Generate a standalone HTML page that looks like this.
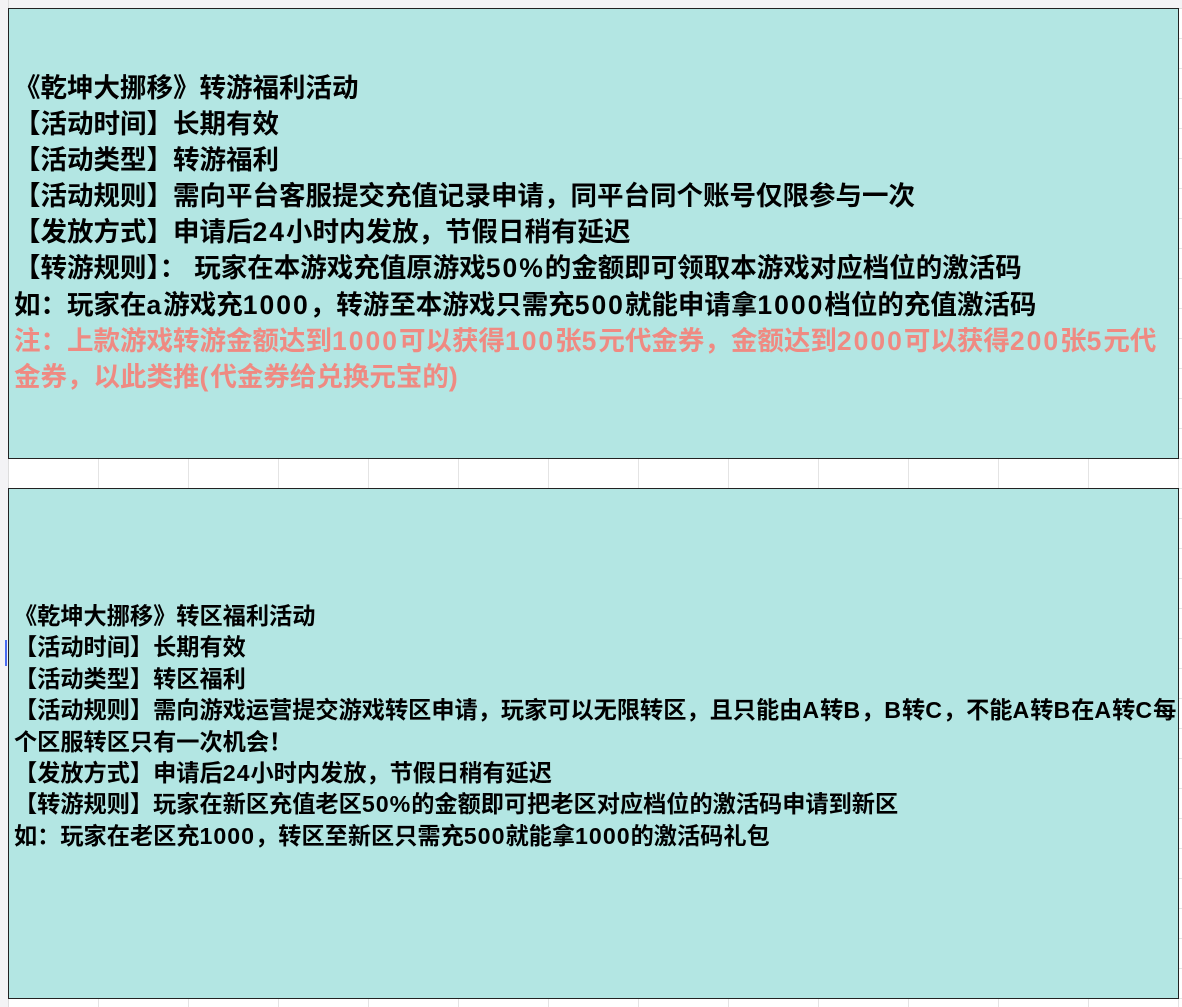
<!DOCTYPE html>
<html><head><meta charset="utf-8"><style>
html,body{margin:0;padding:0;}
body{width:1182px;height:1007px;position:relative;overflow:hidden;background-color:#fff;
background-image:linear-gradient(to right,#e4e4e4 1px,transparent 1px),linear-gradient(to bottom,#e4e4e4 1px,transparent 1px);
background-size:90px 30px;background-position:8px 8px;
font-family:"Liberation Sans","Noto Sans CJK SC",sans-serif;font-weight:bold;color:#000;}
.hdr{position:absolute;left:0;top:0;width:1182px;height:8px;background:#f3f3f5;border-bottom:1px solid #ddd;}
.lcol{position:absolute;left:0;top:0;width:8px;height:1007px;background:#f3f3f5;border-right:1px solid #ddd;}
.box{position:absolute;left:8px;width:1169px;background:#b3e6e3;border:1px solid #222;}
.t{position:absolute;left:14px;white-space:nowrap;}
.t1{top:70px;font-size:26.5px;line-height:36.1px;}
.t2{top:601px;font-size:23.2px;line-height:31.4px;}
.t1 i{font-style:normal;letter-spacing:2px;}
.t2 i{font-style:normal;letter-spacing:1px;}
.pink{color:#ef8a82;}
</style></head><body>
<div class="hdr"></div><div class="lcol"></div>
<div class="box" style="top:8px;height:449px;"></div>
<div class="box" style="top:488px;height:509px;"></div>
<div style="position:absolute;left:5px;top:640px;width:2px;height:26px;background:#4a6cf0;"></div>
<div class="t t1">《乾坤大挪移》转游福利活动<br>【活动时间】长期有效<br>【活动类型】转游福利<br>【活动规则】需向平台客服提交充值记录申请，同平台同个账号仅限参与一次<br>【发放方式】申请后<i>24</i>小时内发放，节假日稍有延迟<br>【转游规则】<span style="letter-spacing:8px">：</span>玩家在本游戏充值原游戏<i>50%</i>的金额即可领取本游戏对应档位的激活码<br>如：玩家在<i>a</i>游戏充<i>1000</i>，转游至本游戏只需充<i>500</i>就能申请拿<i>1000</i>档位的充值激活码<br><span class="pink">注：上款游戏转游金额达到<i>1000</i>可以获得<i>100</i>张<i>5</i>元代金券，金额达到<i>2000</i>可以获得<i>200</i>张<i>5</i>元代<br>金券，以此类推<i>(</i>代金券给兑换元宝的<i>)</i></span></div>
<div class="t t2">《乾坤大挪移》转区福利活动<br>【活动时间】长期有效<br>【活动类型】转区福利<br>【活动规则】需向游戏运营提交游戏转区申请，玩家可以无限转区，且只能由<i>A</i>转<i>B</i>，<i>B</i>转<i>C</i>，不能<i>A</i>转<i>B</i>在<i>A</i>转<i>C</i>每<br>个区服转区只有一次机会！<br>【发放方式】申请后<i>24</i>小时内发放，节假日稍有延迟<br>【转游规则】玩家在新区充值老区<i>50%</i>的金额即可把老区对应档位的激活码申请到新区<br>如：玩家在老区充<i>1000</i>，转区至新区只需充<i>500</i>就能拿<i>1000</i>的激活码礼包</div>
</body></html>
